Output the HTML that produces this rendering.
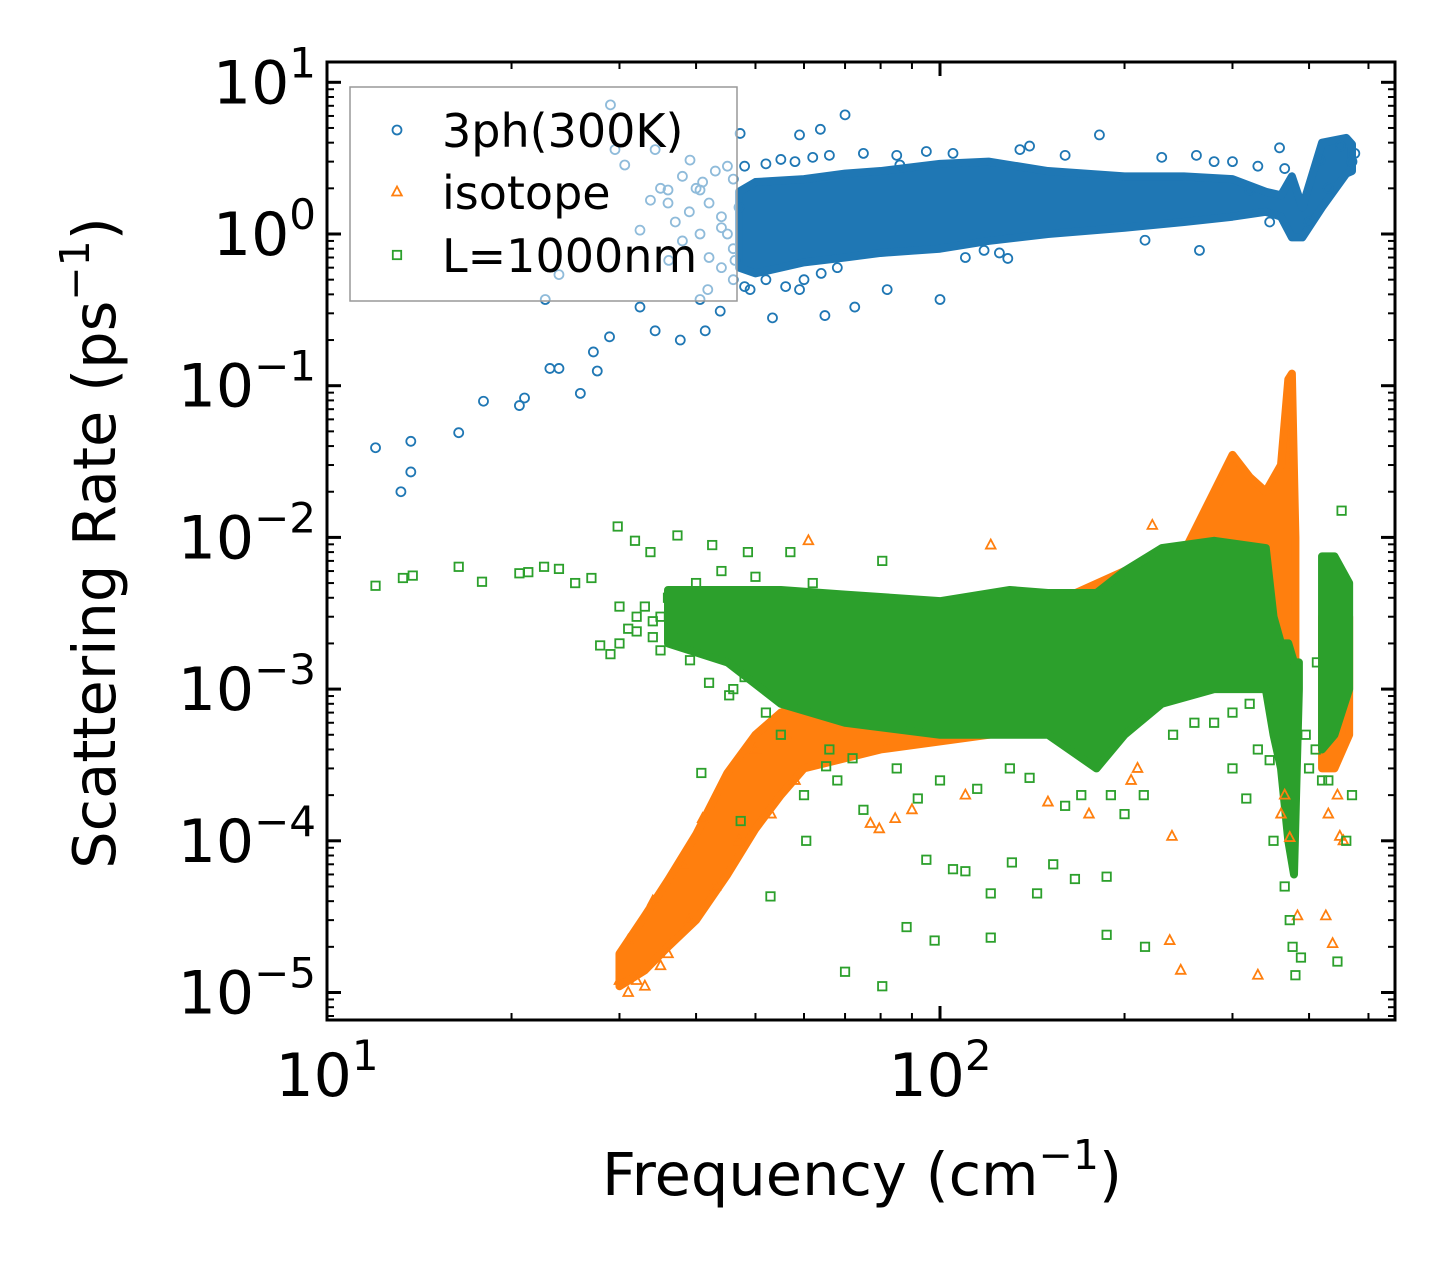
<!DOCTYPE html>
<html><head><meta charset="utf-8"><style>
html,body{margin:0;padding:0;background:#fff;}
svg text{font-family:"DejaVu Sans","Liberation Sans",sans-serif;fill:#000;}
</style></head><body>
<svg id="chart" width="1455" height="1269" viewBox="0 0 1455 1269" xmlns="http://www.w3.org/2000/svg">
<rect width="1455" height="1269" fill="#fff"/>
<g id="bands"></g>
<g id="marks"></g>
<g id="axes"></g>
<g id="legend"></g>
</svg>
<script>
// ---------- data ----------
const xTickValues=[10,100];
const yTickExps=[1,0,-1,-2,-3,-4,-5];
const xTitle="Frequency (cm";
const yTitle="Scattering Rate (ps";
const legendLabels=["3ph(300K)","isotope","L=1000nm"];

// dense cloud envelopes (frequency, low, high); null breaks a band
const blueBandF=[47,50,60,70,80,100,120,150,200,250,300,340,360,375,390,420,460,470];
const blueBandLo=[0.6,0.55,0.65,0.7,0.75,0.8,0.9,1.0,1.1,1.2,1.3,1.4,1.3,0.95,0.95,1.5,2.5,2.6];
const blueBandHi=[1.9,2.2,2.3,2.5,2.6,2.9,3.0,2.6,2.4,2.4,2.3,1.9,1.8,2.4,1.5,4.0,4.3,3.9];

const orangeBandF=[30,33,36,40,45,50,55,60,80,120,160,200,250,280,300,320,340,360,370,375,380,null,420,440,465];
const orangeBandLo=[1.1e-5,1.4e-5,2e-5,3e-5,6e-5,1.2e-4,2e-4,3e-4,4e-4,5e-4,6e-4,1.5e-3,2e-3,4e-3,5e-3,4e-3,3e-3,2e-3,1e-3,1e-3,5e-4,null,3e-4,3e-4,5e-4];
const orangeBandHi=[1.8e-5,3.2e-5,5.5e-5,1.1e-4,2.8e-4,5e-4,7e-4,8e-4,3e-3,4e-3,4e-3,6e-3,8e-3,2e-2,3.5e-2,2.5e-2,2e-2,3e-2,0.11,0.12,1e-2,null,3e-3,4e-3,3e-3];

const greenBandF=[36,45,55,70,100,130,150,180,200,230,280,340,350,360,370,378,385,null,420,440,465];
const greenBandLo=[2e-3,1.5e-3,8e-4,6e-4,5e-4,5e-4,5e-4,3e-4,5e-4,8e-4,1e-3,1e-3,5e-4,3e-4,1e-4,6e-5,1e-3,null,4e-4,5e-4,1e-3];
const greenBandHi=[4.5e-3,4.5e-3,4.5e-3,4.2e-3,3.8e-3,4.5e-3,4.3e-3,4.3e-3,6e-3,8.5e-3,9.5e-3,8.5e-3,3e-3,2e-3,2e-3,1.5e-3,1.5e-3,null,7.5e-3,7.5e-3,5e-3];

// scattered points
const blueF=[12.0,13.2,13.7,13.7,16.4,18.0,20.6,21.0,23.1,23.9,25.9,27.2,27.6,28.9,32.4,34.3,37.7,40.6,41.4,43.8,46.3,49.0,53.3,59.0,64.9,72.6,82.0,129,358,262,70,63.8,59,47.2,29,29.5,30.6,34.3,39.1,40.6,33.7,32.4,23.9,22.7,36,40.6,36.1,41.8,86,135,182,320,417,100,118,216,265,
 38,40,42,44,45,46,43,41,39,37,44,46,48,45,47,35,36,38,42,44,46,48,52,55,58,62,66,75,85,95,105,140,160,230,280,300,330,345,365,400,430,450,470,475,52,56,60,64,68,110,125];
const blueY=[0.039,0.020,0.027,0.043,0.049,0.079,0.074,0.083,0.13,0.13,0.089,0.167,0.125,0.21,0.33,0.23,0.2,0.37,0.23,0.31,0.67,0.43,0.28,0.43,0.29,0.33,0.43,0.69,3.7,3.3,6.1,4.9,4.5,4.6,7.1,3.6,2.85,3.6,3.07,1.95,1.67,1.06,0.54,0.37,1.95,1.0,0.67,0.43,2.85,3.6,4.5,1.95,3.07,0.37,0.78,0.91,0.78,
 2.4,2.0,1.6,1.3,1.0,0.8,2.6,2.2,1.4,1.2,0.6,0.5,0.45,2.8,1.5,2.0,1.6,0.9,0.7,1.1,2.3,2.8,2.9,3.1,3.0,3.2,3.3,3.4,3.3,3.5,3.4,3.8,3.3,3.2,3.0,3.0,2.8,1.2,2.7,1.2,2.0,3.8,3.0,3.4,0.5,0.45,0.5,0.55,0.6,0.7,0.75];

const orangeF=[30,31,33,35,61,121,222,237,247,330,383,426,437,449,239,372,79.6,84.5,77,90,110,150,175,205,210,360,365,430,445,455,31,32,34,36,38,39,41,43,47,50,53,56,58];
const orangeY=[1.2e-5,1e-5,1.1e-5,1.5e-5,9.5e-3,8.9e-3,1.2e-2,2.2e-5,1.4e-5,1.3e-5,3.2e-5,3.2e-5,2.1e-5,1.07e-4,1.07e-4,1.05e-4,1.2e-4,1.4e-4,1.3e-4,1.6e-4,2e-4,1.8e-4,1.5e-4,2.5e-4,3e-4,1.5e-4,2e-4,1.5e-4,2e-4,1e-4,2.2e-5,1.2e-5,4e-5,1.8e-5,7e-5,3e-5,1.4e-4,5e-5,1e-4,4e-4,1.5e-4,5e-4,2.5e-4];

const greenF=[12,13.3,13.8,16.4,17.9,20.6,21.3,22.6,23.9,25.4,27,27.9,29.8,31.8,33.7,35,37.3,39.1,40.8,42.5,45.3,47.3,48.6,52.9,57,60.5,65.2,70,80.5,80.5,88.2,95,98,105,110,121,121,131,153,144,166,187,187,216,316,345,388,445,452,336,60,68,75,92,115,140,160,200,215,300,330,395,400,410,430,460,
 30,31,32,33,34,35,36,29,30,32,34,38,40,44,48,52,55,50,46,42,62,66,72,85,100,130,170,190,240,260,280,300,320,350,365,372,376,380,412,420,470];
const greenY=[4.8e-3,5.4e-3,5.6e-3,6.4e-3,5.1e-3,5.8e-3,5.9e-3,6.4e-3,6.2e-3,5e-3,5.4e-3,1.94e-3,1.18e-2,9.5e-3,8e-3,1.8e-3,1.03e-2,1.55e-3,2.8e-4,8.9e-3,9.1e-4,1.35e-4,8e-3,4.3e-5,8e-3,1e-4,3.1e-4,1.37e-5,1.1e-5,7e-3,2.7e-5,7.5e-5,2.2e-5,6.5e-5,6.3e-5,4.5e-5,2.3e-5,7.2e-5,7e-5,4.5e-5,5.6e-5,5.8e-5,2.4e-5,2e-5,1.9e-4,3.4e-4,1.7e-5,1.6e-5,1.5e-2,2.9e-3,2e-4,2.5e-4,1.6e-4,1.9e-4,2.2e-4,2.6e-4,1.7e-4,1.5e-4,2e-4,3e-4,4e-4,5e-4,3e-4,4e-4,2.5e-4,1e-4,
 2e-3,2.5e-3,3e-3,3.5e-3,2.2e-3,3e-3,4e-3,1.7e-3,3.5e-3,2.4e-3,2.8e-3,2.5e-3,5e-3,6e-3,1.2e-3,7e-4,5e-4,5.5e-3,1e-3,1.1e-3,5e-3,4e-4,3.5e-4,3e-4,2.5e-4,3e-4,2e-4,2e-4,5e-4,6e-4,6e-4,7e-4,8e-4,1e-4,5e-5,3e-5,2e-5,1.3e-5,1.5e-3,2.5e-4,2e-4];

// ---------- scales ----------
const L=327,R=1395,T=62,B=1020;
const X10=327,XDEC=613;
const Y0=234,YDEC=151.7;
function xs(v){return X10+(Math.log10(v)-1)*XDEC;}
function ys(v){return Y0-Math.log10(v)*YDEC;}

const NS="http://www.w3.org/2000/svg";
function mk(tag,attrs,parent){const e=document.createElementNS(NS,tag);for(const k in attrs)e.setAttribute(k,attrs[k]);parent.appendChild(e);return e;}
const bands=document.getElementById('bands'),marks=document.getElementById('marks'),axes=document.getElementById('axes'),legend=document.getElementById('legend');
const C1="#1f77b4",C2="#ff7f0e",C3="#2ca02c";

function drawBand(F,LO,HI,color,name){
  let segs=[[]];
  F.forEach((f,i)=>{if(f===null){segs.push([]);}else segs[segs.length-1].push(i);});
  segs.forEach(seg=>{
    if(!seg.length)return;
    const top=seg.map(i=>xs(F[i])+','+ys(HI[i]));
    const bot=seg.slice().reverse().map(i=>xs(F[i])+','+ys(LO[i]));
    const p=mk('polygon',{points:top.concat(bot).join(' '),fill:color,stroke:color,'stroke-width':8,'stroke-linejoin':'round'},bands);
    
    
  });
}
function circle(x,y,parent,c){return mk('circle',{cx:x,cy:y,r:4.5,fill:'none',stroke:c,'stroke-width':1.8},parent);}
function tri(x,y,parent,c){return mk('polygon',{points:`${x},${y-5.5} ${x-4.8},${y+3.5} ${x+4.8},${y+3.5}`,fill:'none',stroke:c,'stroke-width':1.8},parent);}
function sq(x,y,parent,c){return mk('rect',{x:x-4.2,y:y-4.2,width:8.4,height:8.4,fill:'none',stroke:c,'stroke-width':1.8},parent);}

drawBand(blueBandF,blueBandLo,blueBandHi,C1,'3ph-dense-region');
blueF.forEach((f,i)=>{const e=circle(xs(f),ys(blueY[i]),marks,C1);
  
  });
drawBand(orangeBandF,orangeBandLo,orangeBandHi,C2,'isotope-dense-region');
orangeF.forEach((f,i)=>{const e=tri(xs(f),ys(orangeY[i]),marks,C2);
  
  });
drawBand(greenBandF,greenBandLo,greenBandHi,C3,'boundary-dense-region');
greenF.forEach((f,i)=>{const e=sq(xs(f),ys(greenY[i]),marks,C3);
  
  });

// ---------- axes ----------
for(let d=1;d<=2;d++){for(let m=1;m<=9;m++){const v=m*Math.pow(10,d);const x=xs(v);if(x<L-1||x>R+1)continue;
  const len=m===1?14:7,w=m===1?3:2;
  const t1=mk('line',{x1:x,y1:B,x2:x,y2:B-len,stroke:'#000','stroke-width':w},axes);
  
  
  const t2=mk('line',{x1:x,y1:T,x2:x,y2:T+len,stroke:'#000','stroke-width':w},axes);
  
  
}}
for(let d=-6;d<=1;d++){for(let m=1;m<=9;m++){const v=m*Math.pow(10,d);const y=ys(v);if(y<T-1||y>B+1)continue;
  const len=m===1?14:7,w=m===1?3:2;
  const t1=mk('line',{x1:L,y1:y,x2:L+len,y2:y,stroke:'#000','stroke-width':w},axes);
  
  
  const t2=mk('line',{x1:R,y1:y,x2:R-len,y2:y,stroke:'#000','stroke-width':w},axes);
  
  
}}
const frame=mk('rect',{x:L,y:T,width:R-L,height:B-T,fill:'none',stroke:'#000','stroke-width':3},axes);



xTickValues.forEach(v=>{const e=Math.round(Math.log10(v));
  const t=mk('text',{x:xs(v),y:1096,'font-size':60,'text-anchor':'middle'},axes);
  
  
  t.innerHTML=`10<tspan dy="-26" font-size="42">${e}</tspan>`;
});
yTickExps.forEach(e=>{
  const t=mk('text',{x:316,y:ys(Math.pow(10,e))+21,'font-size':60,'text-anchor':'end'},axes);
  
  
  const s=e<0?'\u2212'+(-e):''+e;
  t.innerHTML=`10<tspan dy="-26" font-size="42">${s}</tspan>`;
});
const xt=mk('text',{x:862,y:1195,'font-size':59,'text-anchor':'middle'},axes);


xt.innerHTML=`${xTitle}<tspan dy="-26" font-size="41">\u22121</tspan><tspan dy="26">)</tspan>`;
const yt=mk('text',{x:0,y:0,'font-size':59,'text-anchor':'middle',transform:'translate(115,543) rotate(-90)'},axes);


yt.innerHTML=`${yTitle}<tspan dy="-26" font-size="41">\u22121</tspan><tspan dy="26">)</tspan>`;

// ---------- legend ----------
const lb=mk('rect',{x:350,y:87,width:387,height:214,fill:'#fff','fill-opacity':0.5,stroke:'#999','stroke-width':1.5},legend);


const rows=[130,192,255],fns=[circle,tri,sq],cols=[C1,C2,C3];
legendLabels.forEach((lab,i)=>{
  const m=fns[i](397,rows[i],legend,cols[i]);
  
  
  const t=mk('text',{x:442,y:rows[i]+17,'font-size':46},legend);
  
  
  t.textContent=lab;
});
</script>
</body></html>
